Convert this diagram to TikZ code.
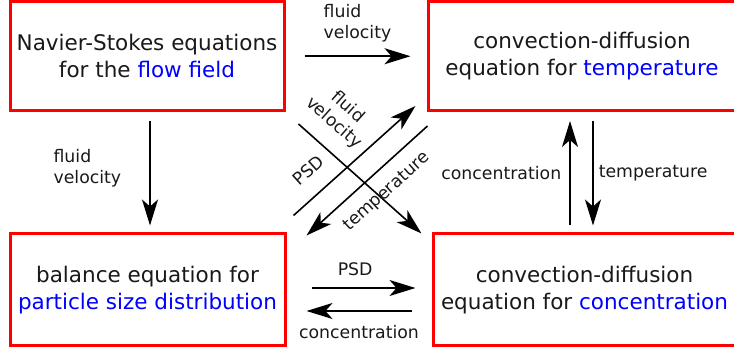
\documentclass[tikz,border=0pt]{standalone}
\usepackage{fontspec}
\setmainfont{DejaVu Sans}
\usetikzlibrary{arrows.meta,calc}
\definecolor{BoxClr}{rgb}{1,0,0}
\definecolor{KeyClr}{rgb}{0,0,1}
\definecolor{TxtClr}{rgb}{0.1,0.1,0.1}

\begin{document}
\begin{tikzpicture}[x=1pt,y=1pt,
  eqbox/.style={draw=BoxClr,line width=3pt,align=center,text=TxtClr,inner sep=0pt,
    font=\fontsize{21.5}{27}\selectfont},
  flow/.style={line width=1.6pt,-{Stealth[length=26pt,width=16pt,inset=7pt]}},
  lbl/.style={text=TxtClr,inner sep=0pt,font=\fontsize{17.3}{21}\selectfont}]
\clip (0,0) rectangle (734,350);

\node[eqbox,minimum width=274pt,minimum height=109.5pt] (ns) at (147,293.75)
  {Navier-Stokes equations\\for the \textcolor{KeyClr}{flow field}};
\node[eqbox,minimum width=308pt,minimum height=109.5pt] (temp) at (582,293.75)
  {convection-diffusion\\equation for \textcolor{KeyClr}{temperature}};
\node[eqbox,minimum width=275pt,minimum height=112pt] (psd) at (147.5,60)
  {\raisebox{-4pt}{balance equation for}\\\raisebox{-4pt}{\textcolor{KeyClr}{particle size distribution}}};
\node[eqbox,minimum width=303pt,minimum height=112pt] (conc) at (584.5,60)
  {\raisebox{-4pt}{convection-diffusion}\\\raisebox{-4pt}{equation for \textcolor{KeyClr}{concentration}}};

\draw[flow] ([xshift=19pt]ns.east) -- ([xshift=-16pt]temp.west)
  node[lbl,midway,above=13pt,align=left] {fluid\\velocity};
\draw[flow] ([xshift=3pt,yshift=-8.5pt]ns.south) -- ([xshift=2.5pt,yshift=7pt]psd.north)
  node[lbl,midway,left=28pt,yshift=5.5pt,align=left] {fluid\\velocity};

\draw[flow] ([xshift=25pt,yshift=2pt]psd.east) -- ([xshift=-16pt,yshift=2pt]conc.west)
  node[lbl,pos=0.42,above=11pt] {PSD};
\draw[flow] ([xshift=-20pt,yshift=-21pt]conc.west) -- ([xshift=20pt,yshift=-21pt]psd.east)
  node[lbl,midway,below=14pt] {concentration};

\draw[flow] ([xshift=-14.5pt,yshift=7pt]conc.north) -- ([xshift=-12pt,yshift=-8.5pt]temp.south)
  node[lbl,midway,left=8pt] {concentration};
\draw[flow] ([xshift=11pt,yshift=-8.5pt]temp.south) -- ([xshift=8.5pt,yshift=7pt]conc.north)
  node[lbl,midway,right=5pt] {temperature};

\draw[flow] ([xshift=13pt,yshift=-11.5pt]ns.south east) -- ([xshift=-10pt,yshift=-1pt]conc.north west)
  node[lbl,pos=0.155,sloped,above=15pt,align=center] {fluid\\velocity};
\draw[flow] ([xshift=7pt,yshift=17pt]psd.north east) -- ([xshift=-11pt,yshift=6.5pt]temp.south west)
  node[lbl,pos=0.25,sloped,above=16.5pt] {PSD};
\draw[flow] ([xshift=1pt,yshift=-13.5pt]temp.south west) -- ([xshift=20pt,yshift=-3pt]psd.north east)
  node[lbl,pos=0.455,sloped,below=13pt] {temperature};

\end{tikzpicture}
\end{document}
